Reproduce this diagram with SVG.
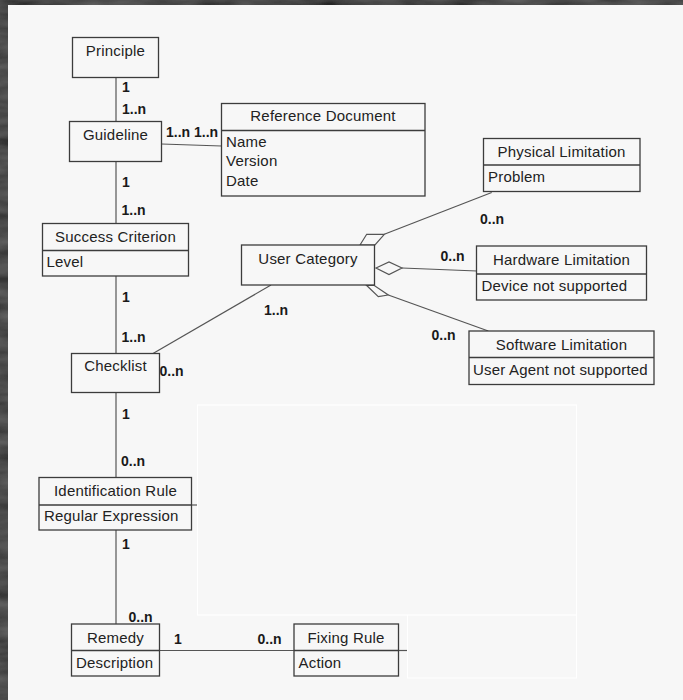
<svg xmlns="http://www.w3.org/2000/svg" width="683" height="700" viewBox="0 0 683 700">
  <defs>
    <filter id="grain" x="0" y="0" width="100%" height="100%">
      <feTurbulence type="fractalNoise" baseFrequency="0.02 0.08" numOctaves="3" seed="4"/>
      <feColorMatrix type="matrix" values="0 0 0 0 0.32  0 0 0 0 0.32  0 0 0 0 0.32  0 0 0 0.45 -0.05"/>
      <feComposite in2="SourceGraphic" operator="over"/>
    </filter>
  </defs>
  <style>
    .box { fill: #f7f7f7; stroke: #3c3c3c; stroke-width: 1.3; }
    .div { stroke: #3c3c3c; stroke-width: 1.3; }
    .conn { stroke: #555; stroke-width: 1.2; fill: none; }
    .dia { fill: #f7f7f7; stroke: #555; stroke-width: 1.2; }
    .title { font-family: "Liberation Sans", Arial, sans-serif; font-size: 15px; fill: #222; text-anchor: middle; letter-spacing: 0.2px; }
    .attr { font-family: "Liberation Sans", Arial, sans-serif; font-size: 15px; fill: #222; letter-spacing: 0.2px; }
    .mult { font-family: "Liberation Sans", Arial, sans-serif; font-size: 14px; font-weight: bold; fill: #1a1a1a; }
    .ghost { fill: none; stroke: #ffffff; stroke-width: 1.2; }
  </style>

  <!-- dark frame and drawing sheet -->
  <rect x="0" y="0" width="683" height="700" fill="#262626" filter="url(#grain)"/>
  <rect x="8" y="5" width="675" height="695" fill="#f7f7f7"/>
  <rect class="ghost" x="197.5" y="405" width="379" height="210"/>
  <polyline class="ghost" points="407.5,615 407.5,678 576.5,678 576.5,615"/>

  <!-- connectors -->
  <g id="connectors">
    <line class="conn" x1="116" y1="77.5" x2="116" y2="121.5"/>
    <line class="conn" x1="161.5" y1="144" x2="221.5" y2="146"/>
    <line class="conn" x1="116" y1="161.5" x2="116" y2="223.5"/>
    <line class="conn" x1="116" y1="276" x2="116" y2="353.5"/>
    <line class="conn" x1="153" y1="353.5" x2="271" y2="285"/>
    <line class="conn" x1="116" y1="392.5" x2="116" y2="477.5"/>
    <line class="conn" x1="116" y1="530" x2="116" y2="624"/>
    <line class="conn" x1="159.5" y1="650.5" x2="294" y2="650.5"/>
    <line class="conn" x1="191.5" y1="505" x2="197" y2="505"/>
    <line class="conn" x1="398.5" y1="650.5" x2="407" y2="650.5"/>
    <!-- aggregations from User Category -->
    <line class="conn" x1="384.3" y1="234.3" x2="491.7" y2="192.5"/>
    <polygon class="dia" points="360,245 366.7,234.3 384.3,234.3 375,245"/>
    <line class="conn" x1="402" y1="268" x2="477" y2="271"/>
    <polygon class="dia" points="376,268 389,262 402,268 389,274.5"/>
    <line class="conn" x1="388.3" y1="295" x2="488.3" y2="331"/>
    <polygon class="dia" points="366.7,285.5 374.3,285.5 388.3,295 378.3,296.7"/>

    <!-- multiplicities -->
    <text class="mult" x="122" y="92">1</text>
    <text class="mult" x="122" y="114">1..n</text>
    <text class="mult" x="166" y="137">1..n</text>
    <text class="mult" x="194" y="137">1..n</text>
    <text class="mult" x="122" y="187">1</text>
    <text class="mult" x="121.5" y="215">1..n</text>
    <text class="mult" x="122" y="302">1</text>
    <text class="mult" x="121.5" y="342">1..n</text>
    <text class="mult" x="159.5" y="376">0..n</text>
    <text class="mult" x="264" y="315">1..n</text>
    <text class="mult" x="480" y="223.5">0..n</text>
    <text class="mult" x="440.5" y="261">0..n</text>
    <text class="mult" x="431.5" y="339.5">0..n</text>
    <text class="mult" x="122" y="419">1</text>
    <text class="mult" x="121" y="466">0..n</text>
    <text class="mult" x="122" y="548.5">1</text>
    <text class="mult" x="128.5" y="622">0..n</text>
    <text class="mult" x="174" y="643.5">1</text>
    <text class="mult" x="257.5" y="643.5">0..n</text>
  </g>

  <g id="principle">
    <rect class="box" x="72.5" y="37.5" width="86" height="40"/>
    <text class="title" x="115.5" y="56">Principle</text>
  </g>

  <g id="guideline">
    <rect class="box" x="69.5" y="121.5" width="92" height="40"/>
    <text class="title" x="115.5" y="140">Guideline</text>
  </g>

  <g id="reference-document">
    <rect class="box" x="221.5" y="103.5" width="203.5" height="92.5"/>
    <line class="div" x1="221.5" y1="130.5" x2="425" y2="130.5"/>
    <text class="title" x="323" y="121">Reference Document</text>
    <text class="attr" x="226" y="147">Name</text>
    <text class="attr" x="226" y="166">Version</text>
    <text class="attr" x="226" y="185.5">Date</text>
  </g>

  <g id="success-criterion">
    <rect class="box" x="42.5" y="223.5" width="146" height="52.5"/>
    <line class="div" x1="42.5" y1="250.5" x2="188.5" y2="250.5"/>
    <text class="title" x="115.5" y="242">Success Criterion</text>
    <text class="attr" x="46.5" y="267">Level</text>
  </g>

  <g id="user-category">
    <rect class="box" x="241.5" y="245" width="133" height="40"/>
    <text class="title" x="308" y="263.5">User Category</text>
  </g>

  <g id="physical-limitation">
    <rect class="box" x="483.5" y="138.5" width="156.5" height="53"/>
    <line class="div" x1="483.5" y1="165" x2="640" y2="165"/>
    <text class="title" x="561.5" y="157">Physical Limitation</text>
    <text class="attr" x="488" y="182">Problem</text>
  </g>

  <g id="hardware-limitation">
    <rect class="box" x="476.5" y="246" width="170" height="54"/>
    <line class="div" x1="476.5" y1="274" x2="646.5" y2="274"/>
    <text class="title" x="561.5" y="264.5">Hardware Limitation</text>
    <text class="attr" x="481.5" y="290.5">Device not supported</text>
  </g>

  <g id="software-limitation">
    <rect class="box" x="469" y="331" width="185" height="53.5"/>
    <line class="div" x1="469" y1="357.5" x2="654" y2="357.5"/>
    <text class="title" x="561.5" y="349.5">Software Limitation</text>
    <text class="attr" x="473" y="375">User Agent not supported</text>
  </g>

  <g id="checklist">
    <rect class="box" x="71.5" y="353.5" width="88" height="39"/>
    <text class="title" x="115.5" y="371">Checklist</text>
  </g>

  <g id="identification-rule">
    <rect class="box" x="39" y="477.5" width="152.5" height="52.5"/>
    <line class="div" x1="39" y1="505" x2="191.5" y2="505"/>
    <text class="title" x="115.5" y="495.5">Identification Rule</text>
    <text class="attr" x="44" y="521">Regular Expression</text>
  </g>

  <g id="remedy">
    <rect class="box" x="71.5" y="624" width="88" height="52"/>
    <line class="div" x1="71.5" y1="650.5" x2="159.5" y2="650.5"/>
    <text class="title" x="115.5" y="642.5">Remedy</text>
    <text class="attr" x="76" y="667.5">Description</text>
  </g>

  <g id="fixing-rule">
    <rect class="box" x="294" y="624" width="104.5" height="52"/>
    <line class="div" x1="294" y1="650.5" x2="398.5" y2="650.5"/>
    <text class="title" x="346" y="642.5">Fixing Rule</text>
    <text class="attr" x="298.5" y="667.5">Action</text>
  </g>
</svg>
